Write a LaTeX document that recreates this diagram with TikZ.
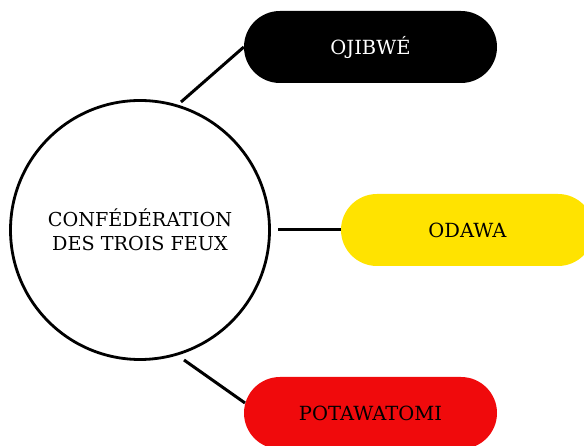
\documentclass[tikz,border=0pt]{standalone}
\usepackage{fontspec}
\setmainfont{DejaVu Serif}
\definecolor{pillyellow}{HTML}{FFE300}
\definecolor{pillred}{HTML}{F00A0C}
\begin{document}
\begin{tikzpicture}[x=1pt,y=-1pt,
  pill/.style={rounded corners=36pt, minimum width=253pt, minimum height=72pt, inner sep=0pt},
  link/.style={line width=3pt, black},
  pilltext/.style={font=\fontsize{19.5}{22}\selectfont}]
\useasboundingbox (0,0) rectangle (584,446);
\node[circle, draw, line width=2.8pt, minimum size=259pt, inner sep=0pt,
      align=center, font=\fontsize{19.2}{24}\selectfont] (c) at (140,230)
  {CONFÉDÉRATION\\DES TROIS FEUX};
\node[pill, fill=black, text=white, pilltext] (o) at (370.5,47) {OJIBWÉ};
\node[pill, fill=pillyellow, pilltext] (d) at (467.5,230) {ODAWA};
\node[pill, fill=pillred, pilltext] (p) at (370.5,413) {POTAWATOMI};
\coordinate (t1) at (181,102);
\coordinate (m1) at (278,230);
\coordinate (b1) at (184,360);
\coordinate (b2) at (245,403);
\draw[link] (t1) -- (o.west);
\draw[link] (m1) -- (d.west);
\draw[link] (b1) -- (b2);
\end{tikzpicture}
\end{document}
